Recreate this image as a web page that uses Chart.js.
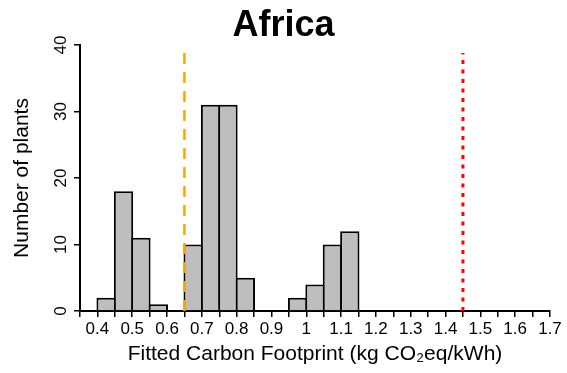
<!DOCTYPE html>
<html>
<head>
<meta charset="utf-8">
<script src="https://cdn.jsdelivr.net/npm/chart.js@4"></script>
<style>
  html, body { margin: 0; padding: 0; background: #fff; }
  #wrap { width: 567px; height: 373px; }
</style>
</head>
<body>
<div id="wrap"><canvas id="histChart" width="567" height="373"></canvas></div>
<script>
// histogram bins (left edges, width 0.05) and counts
const binStarts = [0.40, 0.45, 0.50, 0.55, 0.60, 0.65, 0.70, 0.75, 0.80, 0.85, 0.90, 0.95, 1.00,
                   1.05, 1.10, 1.15, 1.20, 1.25, 1.30, 1.35, 1.40, 1.45, 1.50, 1.55, 1.60, 1.65];
const counts = [2, 18, 11, 1, 0, 10, 31, 31, 5, 0, 0, 2, 4, 10, 12, 0, 0, 0, 0, 0, 0, 0, 0, 0, 0, 0];
const binWidth = 0.05;

const xTicks = [0.35, 0.40, 0.45, 0.50, 0.55, 0.60, 0.65, 0.70, 0.75, 0.80, 0.85, 0.90, 0.95, 1.00,
                1.05, 1.10, 1.15, 1.20, 1.25, 1.30, 1.35, 1.40, 1.45, 1.50, 1.55, 1.60, 1.65, 1.70];
const xLabels = ['0.4', '0.5', '0.6', '0.7', '0.8', '0.9', '1', '1.1', '1.2', '1.3', '1.4', '1.5', '1.6', '1.7'];
const yTicks = [0, 10, 20, 30, 40];

// reference lines
const orangeLine = 0.65;
const redLine = 1.45;
const lineTop = 38.8;

const font = "'Liberation Sans', Arial, sans-serif";

const barData = binStarts.map((b, i) => ({ x: b + binWidth / 2, y: counts[i] }));

function tickLabel(v) {
  const s = (Math.round(v * 100) / 100).toString();
  return xLabels.includes(s) ? s : '';
}

// y tick labels rotated like base R (las = 0), centred on the tick
const yLabelPlugin = {
  id: 'yLabels',
  afterDraw(chart) {
    const c = chart.ctx;
    const sc = chart.scales.y;
    c.save();
    c.fillStyle = '#000';
    c.font = '17px ' + font;
    c.textAlign = 'center';
    c.textBaseline = 'middle';
    yTicks.forEach(v => {
      c.save();
      c.translate(sc.right - 19, sc.getPixelForValue(v));
      c.rotate(-Math.PI / 2);
      c.fillText(String(v), 0, 0);
      c.restore();
    });
    c.restore();
  }
};

const ctx = document.getElementById('histChart').getContext('2d');
new Chart(ctx, {
  type: 'bar',
  data: {
    datasets: [
      {
        type: 'bar',
        data: barData,
        backgroundColor: '#bebebe',
        borderColor: '#000',
        borderWidth: 2,
        barPercentage: 1.11,
        categoryPercentage: 1,
        order: 2
      },
      {
        type: 'line',
        data: [{ x: orangeLine, y: 0 }, { x: orangeLine, y: lineTop }],
        borderColor: '#ffa500',
        borderWidth: 2.5,
        borderDash: [11, 8],
        pointRadius: 0,
        order: 1
      },
      {
        type: 'line',
        data: [{ x: redLine, y: 0 }, { x: redLine, y: lineTop }],
        borderColor: '#ff0000',
        borderWidth: 3,
        borderDash: [4, 5.5],
        pointRadius: 0,
        order: 1
      }
    ]
  },
  options: {
    responsive: false,
    animation: false,
    layout: { padding: 0 },
    plugins: {
      legend: { display: false },
      tooltip: { enabled: false },
      title: {
        display: true,
        text: 'Africa',
        color: '#000',
        font: { family: font, size: 36, weight: 'bold', lineHeight: 1 },
        padding: { top: 8, bottom: 1 }
      }
    },
    scales: {
      x: {
        type: 'linear',
        min: 0.35,
        max: 1.7,
        offset: false,
        afterBuildTicks: (scale) => { scale.ticks = xTicks.map(v => ({ value: v })); },
        afterFit: (scale) => { scale.height = 62; scale.paddingRight = 17; scale.paddingLeft = 0; },
        ticks: {
          autoSkip: false,
          maxRotation: 0,
          minRotation: 0,
          color: '#000',
          padding: 2,
          font: { family: font, size: 17 },
          callback: (v) => tickLabel(v)
        },
        grid: {
          offset: false,
          drawOnChartArea: false,
          drawTicks: true,
          tickLength: 6,
          color: '#000',
          lineWidth: 1.5
        },
        border: { display: true, color: '#000', width: 2 },
        title: {
          display: true,
          text: 'Fitted Carbon Footprint (kg CO\u2082eq/kWh)',
          color: '#000',
          font: { family: font, size: 21 },
          padding: { top: 0, bottom: 6 }
        }
      },
      y: {
        type: 'linear',
        min: 0,
        max: 40,
        afterBuildTicks: (scale) => { scale.ticks = yTicks.map(v => ({ value: v })); },
        afterFit: (scale) => { scale.width = 80; },
        ticks: { display: false },
        grid: {
          drawOnChartArea: false,
          drawTicks: true,
          tickLength: 6,
          color: '#000',
          lineWidth: 1.5
        },
        border: { display: true, color: '#000', width: 2 },
        title: {
          display: true,
          text: 'Number of plants',
          color: '#000',
          font: { family: font, size: 21 },
          padding: { top: 10, bottom: 0 }
        }
      }
    }
  },
  plugins: [yLabelPlugin]
});
</script>
</body>
</html>
